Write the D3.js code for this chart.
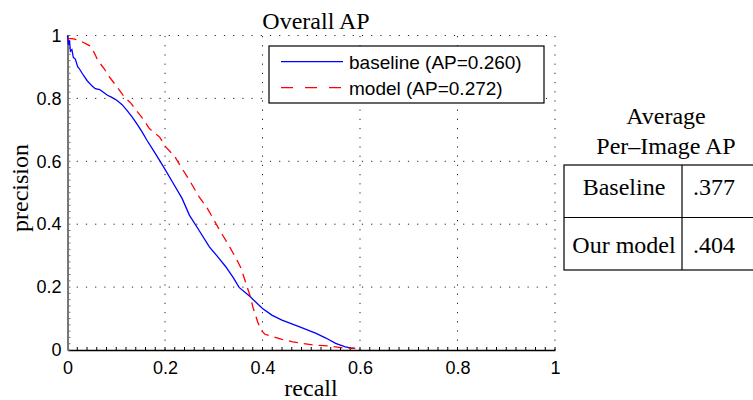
<!DOCTYPE html>
<html>
<head>
<meta charset="utf-8">
<script src="https://cdn.jsdelivr.net/npm/d3@7"></script>
<style>
  html, body { margin: 0; padding: 0; background: #fff; }
  #chart { width: 753px; height: 400px; overflow: hidden; }
</style>
</head>
<body>
<div id="chart"></div>
<script>
// precision / recall curves
const baselineRecall = [0, 0.002, 0.004, 0.006, 0.009, 0.012, 0.016, 0.021, 0.024, 0.03, 0.04, 0.05, 0.057, 0.066, 0.075, 0.082, 0.09, 0.101, 0.112, 0.122, 0.132, 0.142, 0.152, 0.163, 0.18, 0.197, 0.215, 0.235, 0.25, 0.27, 0.291, 0.31, 0.325, 0.34, 0.352, 0.375, 0.4, 0.42, 0.44, 0.475, 0.51, 0.53, 0.55, 0.57, 0.58, 0.59];
const baselinePrec   = [1.0, 0.97, 0.985, 0.95, 0.955, 0.93, 0.925, 0.9, 0.895, 0.88, 0.857, 0.84, 0.831, 0.828, 0.818, 0.81, 0.804, 0.794, 0.78, 0.762, 0.742, 0.72, 0.696, 0.667, 0.625, 0.582, 0.535, 0.482, 0.429, 0.38, 0.328, 0.293, 0.264, 0.23, 0.199, 0.169, 0.132, 0.11, 0.095, 0.074, 0.053, 0.038, 0.021, 0.01, 0.007, 0.005];

const modelRecall = [0, 0.01, 0.025, 0.045, 0.055, 0.062, 0.075, 0.086, 0.1, 0.117, 0.13, 0.141, 0.155, 0.168, 0.189, 0.202, 0.22, 0.233, 0.25, 0.27, 0.285, 0.3, 0.312, 0.33, 0.346, 0.356, 0.366, 0.375, 0.38, 0.39, 0.397, 0.405, 0.417, 0.44, 0.462, 0.503, 0.537, 0.564, 0.59];
const modelPrec   = [0.99, 0.99, 0.984, 0.968, 0.945, 0.921, 0.895, 0.868, 0.84, 0.804, 0.785, 0.762, 0.735, 0.704, 0.677, 0.645, 0.615, 0.582, 0.54, 0.487, 0.455, 0.415, 0.381, 0.335, 0.291, 0.26, 0.212, 0.17, 0.138, 0.09, 0.063, 0.05, 0.044, 0.034, 0.026, 0.016, 0.013, 0.007, 0.005];

const seriesNames = ['baseline (AP=0.260)', 'model (AP=0.272)'];
const tickValues = [0, 0.2, 0.4, 0.6, 0.8, 1];

const tableTitle = ['Average', 'Per\u2013Image AP'];
const tableRows = ['Baseline', 'Our model'];
const tableValues = ['.377', '.404'];

const serif = '"Liberation Serif", "Times New Roman", serif';
const sans = '"Liberation Sans", Arial, sans-serif';

const svg = d3.select('#chart').append('svg')
  .attr('width', 753).attr('height', 400);

const x = d3.scaleLinear().domain([0, 1]).range([67.5, 555]);
const y = d3.scaleLinear().domain([0, 1]).range([350, 35.5]);

// Grid (dotted)
const grid = svg.append('g');
grid.selectAll('.gx').data(tickValues.slice(1)).join('line')
  .attr('x1', d => x(d)).attr('x2', d => x(d))
  .attr('y1', y(0)).attr('y2', y(1))
  .attr('stroke', '#222').attr('stroke-width', 1)
  .attr('stroke-dasharray', '1.2,8');
grid.selectAll('.gy').data(tickValues.slice(1)).join('line')
  .attr('x1', x(0)).attr('x2', x(1))
  .attr('y1', d => y(d)).attr('y2', d => y(d))
  .attr('stroke', '#222').attr('stroke-width', 1)
  .attr('stroke-dasharray', '1.2,8');

// Axes
const minor = d3.range(0, 1.0001, 0.02);
const xAxis = svg.append('g').attr('transform', `translate(0,${y(0)})`)
  .call(d3.axisBottom(x).tickValues(tickValues).tickSize(0).tickPadding(11).tickFormat(d => d3.format('~g')(d)));
xAxis.select('.domain').attr('stroke', '#000').attr('stroke-width', 1.5);
xAxis.selectAll('text').attr('font-family', sans).attr('font-size', '18px').attr('fill', '#000');
xAxis.selectAll('.minor').data(minor).join('line').attr('class', 'minor')
  .attr('x1', d => x(d)).attr('x2', d => x(d)).attr('y1', 0).attr('y2', -3)
  .attr('stroke', '#000');

const yAxis = svg.append('g').attr('transform', `translate(${x(0)},0)`)
  .call(d3.axisLeft(y).tickValues(tickValues).tickSize(0).tickPadding(6).tickFormat(d => d3.format('~g')(d)));
yAxis.select('.domain').attr('stroke', '#777').attr('stroke-width', 2);
yAxis.selectAll('text').attr('font-family', sans).attr('font-size', '18px').attr('fill', '#000');
yAxis.selectAll('.minor').data(minor).join('line').attr('class', 'minor')
  .attr('x1', 0).attr('x2', 3).attr('y1', d => y(d)).attr('y2', d => y(d))
  .attr('stroke', '#777');

// Curves
const line = d3.line().x(d => x(d[0])).y(d => y(d[1]));
const baseline = baselineRecall.map((r, i) => [r, baselinePrec[i]]);
const model = modelRecall.map((r, i) => [r, modelPrec[i]]);

svg.append('path').datum(baseline)
  .attr('d', line).attr('fill', 'none')
  .attr('stroke', '#0000ff').attr('stroke-width', 1.3);
svg.append('path').datum(model)
  .attr('d', line).attr('fill', 'none')
  .attr('stroke', '#ff0000').attr('stroke-width', 1.3)
  .attr('stroke-dasharray', '9,6');

// Title + axis labels
svg.append('text').attr('x', 316).attr('y', 29)
  .attr('text-anchor', 'middle').attr('font-family', serif).attr('font-size', '24px')
  .text('Overall AP');
svg.append('text').attr('x', 311).attr('y', 396)
  .attr('text-anchor', 'middle').attr('font-family', serif).attr('font-size', '24px')
  .text('recall');
svg.append('text').attr('transform', 'translate(28,188) rotate(-90)')
  .attr('text-anchor', 'middle').attr('font-family', serif).attr('font-size', '24px')
  .text('precision');

// Legend
const lg = svg.append('g').attr('transform', 'translate(269,46)');
lg.append('rect').attr('width', 275).attr('height', 57)
  .attr('fill', '#fff').attr('stroke', '#000').attr('stroke-width', 1.2);
const legendStyles = [
  { color: '#0000ff', dash: null },
  { color: '#ff0000', dash: '12,12' }
];
seriesNames.forEach((name, i) => {
  const ly = 15.7 + i * 26;
  lg.append('line').attr('x1', 12).attr('x2', 74).attr('y1', ly).attr('y2', ly)
    .attr('stroke', legendStyles[i].color).attr('stroke-width', 1.3)
    .attr('stroke-dasharray', legendStyles[i].dash);
  lg.append('text').attr('x', 80).attr('y', ly + 7)
    .attr('font-family', sans).attr('font-size', '19px')
    .text(name);
});

// Per-image AP table
const tb = svg.append('g');
tableTitle.forEach((t, i) => {
  tb.append('text').attr('x', 666).attr('y', 124 + i * 30)
    .attr('text-anchor', 'middle').attr('font-family', serif).attr('font-size', '24px')
    .text(t);
});
const tx0 = 564, tx1 = 682, tx2 = 760, ty0 = 165, rowH = 52.5;
tb.append('rect').attr('x', tx0).attr('y', ty0).attr('width', tx2 - tx0).attr('height', rowH * 2)
  .attr('fill', 'none').attr('stroke', '#000').attr('stroke-width', 1.2);
tb.append('line').attr('x1', tx0).attr('x2', tx2).attr('y1', ty0 + rowH).attr('y2', ty0 + rowH)
  .attr('stroke', '#000').attr('stroke-width', 1.2);
tb.append('line').attr('x1', tx1).attr('x2', tx1).attr('y1', ty0).attr('y2', ty0 + rowH * 2)
  .attr('stroke', '#000').attr('stroke-width', 1.2);
tableRows.forEach((r, i) => {
  const ry = ty0 + rowH * i + 30 + i * 5;
  tb.append('text').attr('x', (tx0 + tx1) / 2 + 1).attr('y', ry)
    .attr('text-anchor', 'middle').attr('font-family', serif).attr('font-size', '24px')
    .text(r);
  tb.append('text').attr('x', 714).attr('y', ry)
    .attr('text-anchor', 'middle').attr('font-family', serif).attr('font-size', '24px')
    .text(tableValues[i]);
});
</script>
</body>
</html>
